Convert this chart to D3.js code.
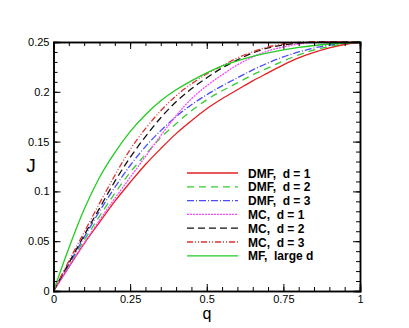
<!DOCTYPE html>
<html lang="en">
<head>
  <meta charset="UTF-8">
  <title>J vs q</title>
  <script src="https://d3js.org/d3.v7.min.js"></script>
  <style>
    body { margin: 0; background: #fff; }
    text { font-family: "Liberation Sans", Arial, sans-serif; }
  </style>
</head>
<body>
  <div id="chart"></div>
  <script>
    // valores
    const qValues = [0, 0.05, 0.1, 0.15, 0.2, 0.25, 0.3, 0.35, 0.4, 0.45, 0.5,
                     0.55, 0.6, 0.65, 0.7, 0.75, 0.8, 0.85, 0.9, 0.95, 1];
    const dmf1 = [0, 0.024, 0.0475, 0.069, 0.09, 0.109, 0.127, 0.143, 0.158, 0.171, 0.183,
                  0.193, 0.202, 0.211, 0.219, 0.227, 0.234, 0.2395, 0.244, 0.2475, 0.25];
    const dmf2 = [0, 0.026, 0.051, 0.075, 0.098, 0.119, 0.137, 0.154, 0.168, 0.181, 0.192,
                  0.201, 0.209, 0.217, 0.224, 0.231, 0.237, 0.242, 0.2455, 0.2485, 0.25];
    const dmf3 = [0, 0.027, 0.054, 0.08, 0.104, 0.126, 0.145, 0.161, 0.175, 0.187, 0.197,
                  0.206, 0.214, 0.222, 0.229, 0.235, 0.24, 0.244, 0.247, 0.249, 0.25];
    const mc1 = [0, 0.024, 0.048, 0.071, 0.093, 0.114, 0.135, 0.156, 0.176, 0.193, 0.206,
                 0.217, 0.227, 0.235, 0.241, 0.245, 0.248, 0.2495, 0.25, 0.25, 0.25];
    const mc2 = [0, 0.028, 0.056, 0.083, 0.11, 0.134, 0.155, 0.174, 0.19, 0.203, 0.214,
                 0.224, 0.232, 0.239, 0.244, 0.247, 0.249, 0.25, 0.25, 0.25, 0.25];
    const mc3 = [0, 0.03, 0.059, 0.088, 0.116, 0.142, 0.163, 0.181, 0.196, 0.208, 0.218,
                 0.226, 0.234, 0.24, 0.245, 0.248, 0.2495, 0.25, 0.25, 0.25, 0.25];
    const mfLarge = [0, 0.043, 0.082, 0.114, 0.139, 0.16, 0.177, 0.191, 0.202, 0.211, 0.219,
                     0.226, 0.231, 0.2355, 0.239, 0.242, 0.2445, 0.2465, 0.248, 0.249, 0.25];
    const seriesLabels = ['DMF,  d = 1', 'DMF,  d = 2', 'DMF,  d = 3',
                          'MC,  d = 1', 'MC,  d = 2', 'MC,  d = 3', 'MF,  large d'];
    const xTicks = [0, 0.25, 0.5, 0.75, 1];
    const yTicks = [0, 0.05, 0.1, 0.15, 0.2, 0.25];

    const series = [
      { label: seriesLabels[0], values: dmf1, color: '#e32020', dash: null },
      { label: seriesLabels[1], values: dmf2, color: '#33cc33', dash: '7,5' },
      { label: seriesLabels[2], values: dmf3, color: '#4a4aff', dash: '7,2,1,2' },
      { label: seriesLabels[3], values: mc1, color: '#ff44ff', dash: '2,1' },
      { label: seriesLabels[4], values: mc2, color: '#111111', dash: '7,4' },
      { label: seriesLabels[5], values: mc3, color: '#e03030', dash: '6,2,1,2,1,2' },
      { label: seriesLabels[6], values: mfLarge, color: '#22cc22', dash: null }
    ];

    const width = 409, height = 328;
    const m = { left: 53.5, right: 49, top: 42, bottom: 37 };

    const svg = d3.select('#chart').append('svg')
      .attr('width', width).attr('height', height);

    const x = d3.scaleLinear().domain([0, 1]).range([m.left, width - m.right]);
    const y = d3.scaleLinear().domain([0, 0.25]).range([height - m.bottom, m.top]);

    // curvas
    const line = d3.line()
      .x((d, i) => x(qValues[i]))
      .y(d => y(d))
      .curve(d3.curveMonotoneX);

    const plot = svg.append('g');
    series.forEach(s => {
      plot.append('path')
        .attr('d', line(s.values))
        .attr('fill', 'none')
        .attr('stroke', s.color)
        .attr('stroke-width', 1.3)
        .attr('stroke-dasharray', s.dash);
    });

    // ejes con marcas hacia dentro
    const xMinor = d3.range(0, 1.0001, 0.05);
    const yMinor = d3.range(0, 0.25001, 0.01);

    svg.append('g').attr('transform', `translate(0,${y(0)})`)
      .call(d3.axisBottom(x).tickValues(xTicks).tickSize(-7).tickPadding(4)
        .tickFormat(d => d3.format('~g')(d)));
    svg.append('g').attr('transform', `translate(0,${y(0)})`)
      .call(d3.axisBottom(x).tickValues(xMinor).tickSize(-4).tickFormat(''));
    svg.append('g').attr('transform', `translate(0,${y(0.25)})`)
      .call(d3.axisTop(x).tickValues(xTicks).tickSize(-7).tickFormat(''));
    svg.append('g').attr('transform', `translate(0,${y(0.25)})`)
      .call(d3.axisTop(x).tickValues(xMinor).tickSize(-4).tickFormat(''));

    svg.append('g').attr('transform', `translate(${x(0)},0)`)
      .call(d3.axisLeft(y).tickValues(yTicks).tickSize(-7).tickPadding(4)
        .tickFormat(d => d3.format('~g')(d)));
    svg.append('g').attr('transform', `translate(${x(0)},0)`)
      .call(d3.axisLeft(y).tickValues(yMinor).tickSize(-4).tickFormat(''));
    svg.append('g').attr('transform', `translate(${x(1)},0)`)
      .call(d3.axisRight(y).tickValues(yTicks).tickSize(-7).tickFormat(''));
    svg.append('g').attr('transform', `translate(${x(1)},0)`)
      .call(d3.axisRight(y).tickValues(yMinor).tickSize(-4).tickFormat(''));

    svg.selectAll('.domain').attr('stroke', '#000').attr('stroke-width', 1.5);
    svg.selectAll('.tick line').attr('stroke', '#000').attr('stroke-width', 1);
    svg.selectAll('.tick text').attr('font-size', 11).attr('fill', '#000')
      .style('font-family', '"Liberation Sans", Arial, sans-serif');

    // titulos de ejes
    svg.append('text').attr('x', 207).attr('y', 319)
      .attr('text-anchor', 'middle').attr('font-size', 16).text('q');
    svg.append('text').attr('x', 31).attr('y', 172)
      .attr('text-anchor', 'middle').attr('font-size', 19).text('J');

    // leyenda
    const leg = svg.append('g');
    series.forEach((s, i) => {
      const ly = 173 + i * 13.8;
      leg.append('line')
        .attr('x1', 187).attr('x2', 238).attr('y1', ly).attr('y2', ly)
        .attr('stroke', s.color).attr('stroke-width', 1.3)
        .attr('stroke-dasharray', s.dash);
      leg.append('text')
        .attr('x', 248).attr('y', ly + 4.5)
        .attr('font-size', 12).attr('font-weight', 'bold')
        .style('white-space', 'pre')
        .text(s.label);
    });
  </script>
</body>
</html>
